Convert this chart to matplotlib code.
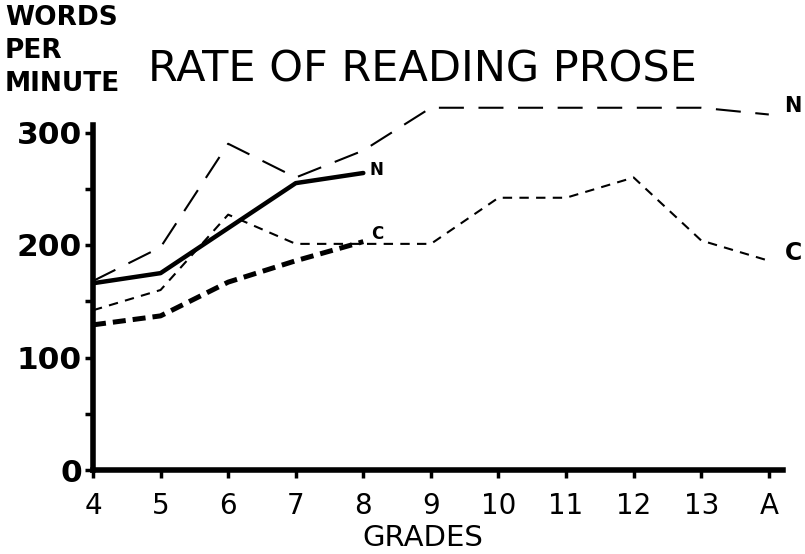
import matplotlib
matplotlib.use("Agg")
import matplotlib.pyplot as plt

grades = ["4", "5", "6", "7", "8", "9", "10", "11", "12", "13", "A"]

# thin lines, full range of grades
n_all = [168, 198, 290, 260, 284, 322, 322, 322, 322, 322, 316]
c_all = [142, 160, 227, 201, 201, 201, 242, 242, 260, 204, 186]

# heavy lines, grades 4-8 only
n_part = [166, 175, 215, 255, 264]
c_part = [129, 137, 167, 186, 203]

fam = ["DejaVu Sans"]

fig = plt.figure(figsize=(8.05, 5.54), dpi=100)
# 0 at y=470 px, 1.125 px per word; grade 4 at x=93 px, 67.6 px per grade
ax = fig.add_axes([93 / 805, 84 / 554, 690 / 805, 382.5 / 554])

x_all = list(range(len(grades)))
x_part = x_all[:len(n_part)]

l1, = ax.plot(x_all, n_all, color="black", lw=1.5)
l1.set_dashes((12, 7))
l2, = ax.plot(x_all, c_all, color="black", lw=1.5)
l2.set_dashes((4.5, 3.5))
ax.plot(x_part, n_part, color="black", lw=3.2, solid_capstyle="round")
l4, = ax.plot(x_part, c_part, color="black", lw=3.6)
l4.set_dashes((2.6, 1.4))

ax.set_xlim(0, 10.21)
ax.set_ylim(0, 340)

for s in ["top", "right"]:
    ax.spines[s].set_visible(False)
ax.spines["left"].set_linewidth(4)
ax.spines["left"].set_bounds(0, 307)
ax.spines["bottom"].set_linewidth(4)

ax.set_xticks(x_all)
ax.set_xticklabels(grades, fontsize=20, family=fam)
ax.set_yticks([0, 50, 100, 150, 200, 250, 300])
ax.set_yticklabels(["0", "", "100", "", "200", "", "300"],
                   fontsize=22.5, fontweight="bold", family=fam)
ax.tick_params(axis="both", length=6, width=2.5, direction="out", pad=2)
ax.tick_params(axis="x", pad=10)

# line labels
ax.text(4.2, 267, "N", fontsize=12, fontweight="bold", va="center", ha="center")
ax.text(4.2, 210, "C", fontsize=12, fontweight="bold", va="center", ha="center")
ax.text(10.36, 324, "N", fontsize=15, fontweight="bold", va="center",
        ha="center", clip_on=False)
ax.text(10.36, 193, "C", fontsize=17, fontweight="bold", va="center",
        ha="center", clip_on=False)

fig.text(148 / 805, 1 - 70 / 554, "RATE OF READING PROSE", fontsize=31,
         family=fam, va="center", ha="left")
fig.text(5 / 805, 1 - 5 / 554, "WORDS\nPER\nMINUTE", fontsize=19,
         fontweight="bold", family=fam, va="top", ha="left", linespacing=1.35)
fig.text(423 / 805, 1 - 552 / 554, "GRADES", fontsize=21, family=fam,
         va="bottom", ha="center")

fig.savefig("out.png", dpi=100)
